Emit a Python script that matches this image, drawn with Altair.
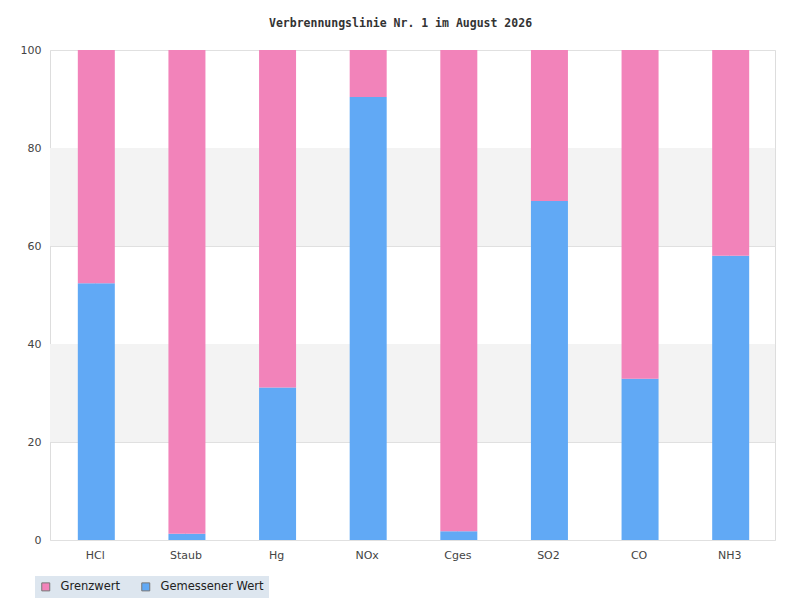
import altair as alt
import pandas as pd

categories = ["HCl", "Staub", "Hg", "NOx", "Cges", "SO2", "CO", "NH3"]
measured = [52.4, 1.3, 31.1, 90.4, 1.8, 69.2, 32.9, 58.0]
limit_rest = [round(100 - v, 1) for v in measured]
series = ["Grenzwert", "Gemessener Wert"]
colors = ["#f283ba", "#61a9f5"]
band_lo = [20, 60]
band_hi = [40, 80]

rows = []
for c, m, r in zip(categories, measured, limit_rest):
    rows.append({"cat": c, "series": "Gemessener Wert", "value": m, "ord": 0})
    rows.append({"cat": c, "series": "Grenzwert", "value": r, "ord": 1})
df = pd.DataFrame(rows)
bands = pd.DataFrame({"lo": band_lo, "hi": band_hi})

yscale = alt.Scale(domain=[0, 100], nice=False)

band_layer = alt.Chart(bands).mark_rect(color="#f3f3f3").encode(
    y=alt.Y("lo:Q", scale=yscale),
    y2="hi:Q",
)

bars = alt.Chart(df).mark_bar(width=37, xOffset=1).encode(
    x=alt.X("cat:N", sort=categories, title=None,
            axis=alt.Axis(labelAngle=0, ticks=False, domain=False,
                          labelPadding=9, labelFontSize=11,
                          labelColor="#444", labelFont="DejaVu Sans")),
    y=alt.Y("value:Q", stack="zero", scale=yscale, title=None,
            axis=alt.Axis(values=[0, 20, 40, 60, 80, 100], ticks=False,
                          domain=False, labelPadding=9, labelFontSize=11,
                          labelColor="#444", labelFont="DejaVu Sans",
                          gridColor="#e0e0e0")),
    color=alt.Color("series:N", sort=series,
                    scale=alt.Scale(domain=series, range=colors),
                    legend=alt.Legend(title=None, orient="none",
                                      direction="horizontal",
                                      legendX=-15, legendY=526,
                                      fillColor="#dde6ef",
                                      padding=5,
                                      symbolType="square",
                                      symbolSize=64,
                                      symbolStrokeColor="#777",
                                      symbolStrokeWidth=1,
                                      labelOffset=9,
                                      labelFont="DejaVu Sans",
                                      labelFontSize=11.5,
                                      labelColor="#222",
                                      columnPadding=18)),
    order=alt.Order("ord:Q"),
)

chart = alt.layer(band_layer, bars).properties(
    width=725,
    height=490,
    padding={"left": 42, "top": 42, "right": 10, "bottom": 68},
    autosize=alt.AutoSizeParams(type="none"),
    title=alt.Title("Verbrennungslinie Nr. 1 im August 2026",
                    font="DejaVu Sans Mono", fontSize=11.5, fontWeight="bold",
                    color="#333", offset=15, dx=-12),
).configure_view(stroke="#dddddd").configure_axis(grid=True)

chart.save("out.html", embed_options={"renderer": "svg", "actions": False})
